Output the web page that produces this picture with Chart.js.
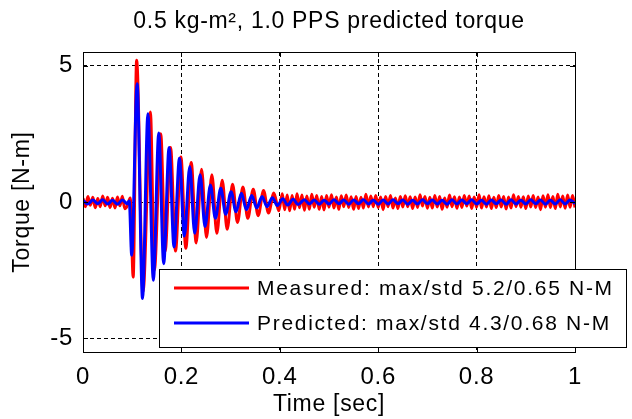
<!DOCTYPE html>
<html>
<head>
<meta charset="utf-8">
<script src="https://cdn.jsdelivr.net/npm/chart.js@4.4.1/dist/chart.umd.min.js"></script>
<style>
  body { margin: 0; background: #fff; }
  #wrap { width: 632px; height: 419px; }
</style>
</head>
<body>
<div id="wrap"><canvas id="chart" width="632" height="419"></canvas></div>
<script>
// tick positions and labels
const xTickValues = [0, 0.2, 0.4, 0.6, 0.8, 1];
const xTickLabels = ["0", "0.2", "0.4", "0.6", "0.8", "1"];
const yTickValues = [-5, 0, 5];
const yTickLabels = ["-5", "0", "5"];

// measured torque [N-m] vs time [sec]
const measuredTime = [
  0, 0.005, 0.01, 0.015, 0.02, 0.025, 0.03, 0.035, 0.04, 0.045,
  0.05, 0.055, 0.06, 0.065, 0.07, 0.075, 0.08, 0.085, 0.09,
  0.096, 0.102, 0.109, 0.122, 0.137, 0.145, 0.158, 0.167, 0.178, 0.188,
  0.199, 0.209, 0.22, 0.23, 0.241, 0.251, 0.262, 0.272, 0.283, 0.293,
  0.304, 0.314, 0.325, 0.335, 0.346, 0.356, 0.367, 0.377, 0.388, 0.398,
  0.405, 0.41, 0.415, 0.42, 0.425, 0.43, 0.435, 0.44, 0.445, 0.45,
  0.455, 0.46, 0.465, 0.47, 0.475, 0.48, 0.485, 0.49, 0.495, 0.5,
  0.505, 0.51, 0.515, 0.52, 0.525, 0.53, 0.535, 0.54, 0.545, 0.55,
  0.555, 0.56, 0.565, 0.57, 0.575, 0.58, 0.585, 0.59, 0.595, 0.6,
  0.605, 0.61, 0.615, 0.62, 0.625, 0.63, 0.635, 0.64, 0.645, 0.65,
  0.655, 0.66, 0.665, 0.67, 0.675, 0.68, 0.685, 0.69, 0.695, 0.7,
  0.705, 0.71, 0.715, 0.72, 0.725, 0.73, 0.735, 0.74, 0.745, 0.75,
  0.755, 0.76, 0.765, 0.77, 0.775, 0.78, 0.785, 0.79, 0.795, 0.8,
  0.805, 0.81, 0.815, 0.82, 0.825, 0.83, 0.835, 0.84, 0.845, 0.85,
  0.855, 0.86, 0.865, 0.87, 0.875, 0.88, 0.885, 0.89, 0.895, 0.9,
  0.905, 0.91, 0.915, 0.92, 0.925, 0.93, 0.935, 0.94, 0.945, 0.95,
  0.955, 0.96, 0.965, 0.97, 0.975, 0.98, 0.985, 0.99, 0.995, 1
];
const measuredTorque = [
  0.14, -0.17, 0.2, -0.12, 0.17, -0.21, 0.13, -0.17, 0.22, -0.14,
  0.17, -0.2, 0.14, -0.22, 0.18, -0.14, 0.21, -0.25, -0.14,
  0.15, -2.75, 5.2, -3.3, 3.3, -2.5, 2.5, -1.8, 2.0, -1.8,
  1.65, -1.7, 1.45, -1.5, 1.2, -1.3, 1.0, -1.15, 0.8, -1.0,
  0.65, -0.75, 0.55, -0.6, 0.47, -0.5, 0.42, -0.4, 0.33, -0.32,
  0.3, -0.28, 0.26, -0.32, 0.24, -0.27, 0.3, -0.21, 0.26, -0.3,
  0.22, -0.27, 0.28, -0.19, 0.24, -0.27, 0.2, -0.29, 0.24, -0.19,
  0.27, -0.22, 0.18, -0.27, 0.23, -0.17, 0.26, -0.2, 0.19, -0.27,
  0.2, -0.24, 0.17, -0.22, 0.28, -0.18, 0.22, -0.17, 0.24, -0.2,
  0.18, -0.28, 0.2, -0.17, 0.24, -0.22, 0.15, -0.24, 0.2, -0.18,
  0.23, -0.17, 0.19, -0.24, 0.18, -0.2, 0.27, -0.15, 0.2, -0.23,
  0.17, -0.22, 0.24, -0.18, 0.2, -0.27, 0.15, -0.19, 0.26, -0.17,
  0.19, -0.23, 0.18, -0.2, 0.24, -0.15, 0.22, -0.24, 0.18, -0.19,
  0.27, -0.22, 0.19, -0.18, 0.23, -0.24, 0.17, -0.2, 0.24, -0.18,
  0.2, -0.26, 0.18, -0.22, 0.27, -0.17, 0.2, -0.19, 0.19, -0.24,
  0.22, -0.18, 0.24, -0.2, 0.18, -0.28, 0.23, -0.19, 0.27, -0.2,
  0.2, -0.24, 0.28, -0.18, 0.22, -0.23, 0.26, -0.19, 0.24, -0.2
];

// predicted torque [N-m] vs time [sec]
const predictedTime = [
  0, 0.01, 0.02, 0.03, 0.04, 0.05, 0.06, 0.07, 0.08, 0.09,
  0.094, 0.099, 0.11, 0.121, 0.132, 0.143, 0.154, 0.164, 0.175, 0.185,
  0.196, 0.206, 0.217, 0.227, 0.238, 0.248, 0.259, 0.269, 0.28, 0.29,
  0.301, 0.311, 0.322, 0.332, 0.343, 0.353, 0.364, 0.374, 0.385, 0.395,
  0.406, 0.416, 0.427, 0.437,
  0.45, 0.46, 0.47, 0.48, 0.49, 0.5, 0.51, 0.52, 0.53, 0.54,
  0.55, 0.56, 0.57, 0.58, 0.59, 0.6, 0.61, 0.62, 0.63, 0.64,
  0.65, 0.66, 0.67, 0.68, 0.69, 0.7, 0.71, 0.72, 0.73, 0.74,
  0.75, 0.76, 0.77, 0.78, 0.79, 0.8, 0.81, 0.82, 0.83, 0.84,
  0.85, 0.86, 0.87, 0.88, 0.89, 0.9, 0.91, 0.92, 0.93, 0.94,
  0.95, 0.96, 0.97, 0.98, 0.99, 1
];
const predictedTorque = [
  0.06, -0.07, 0.07, -0.06, 0.08, -0.07, 0.06, -0.08, 0.07, -0.06,
  0.04, -1.95, 4.34, -3.54, 3.24, -2.87, 2.53, -2.26, 2.0, -1.65,
  1.6, -1.25, 1.3, -1.15, 1.0, -0.9, 0.62, -0.6, 0.5, -0.45,
  0.38, -0.36, 0.32, -0.28, 0.24, -0.22, 0.2, -0.17, 0.16, -0.13,
  0.12, -0.11, 0.1, -0.09,
  0.08, -0.07, 0.07, -0.08, 0.06, -0.07, 0.08, -0.06, 0.07, -0.08,
  0.07, -0.06, 0.08, -0.07, 0.06, -0.08, 0.07, -0.07, 0.08, -0.06,
  0.07, -0.08, 0.06, -0.07, 0.08, -0.06, 0.07, -0.07, 0.06, -0.08,
  0.08, -0.07, 0.07, -0.06, 0.08, -0.07, 0.06, -0.08, 0.07, -0.06,
  0.07, -0.08, 0.08, -0.07, 0.06, -0.07, 0.08, -0.06, 0.07, -0.08,
  0.06, -0.07, 0.08, -0.07, 0.07, -0.06
];

const legendLabels = [
  "Measured: max/std 5.2/0.65 N-M",
  "Predicted: max/std 4.3/0.68 N-M"
];

const FONT = '"Liberation Sans", Arial, sans-serif';

function toPoints(xs, ys) {
  return xs.map((x, i) => ({ x: x, y: ys[i] }));
}

// MATLAB style box with inward ticks, plus the framed legend
const boxPlugin = {
  id: "box",
  beforeDraw(chart) {
    chart.ctx.letterSpacing = "0.7px";
  },
  afterDatasetsDraw(chart) {
    const { ctx, chartArea: a, scales } = chart;
    ctx.save();
    ctx.strokeStyle = "#000";
    ctx.lineWidth = 1;
    ctx.beginPath();
    xTickValues.forEach((v) => {
      const px = Math.round(scales.x.getPixelForValue(v)) + 0.5;
      ctx.moveTo(px, a.bottom); ctx.lineTo(px, a.bottom - 5);
      ctx.moveTo(px, a.top); ctx.lineTo(px, a.top + 5);
    });
    yTickValues.forEach((v) => {
      const py = Math.round(scales.y.getPixelForValue(v)) + 0.5;
      ctx.moveTo(a.left, py); ctx.lineTo(a.left + 5, py);
      ctx.moveTo(a.right, py); ctx.lineTo(a.right - 5, py);
    });
    ctx.stroke();
    ctx.strokeRect(Math.round(a.left) + 0.5, Math.round(a.top) + 0.5,
      Math.round(a.right - a.left), Math.round(a.bottom - a.top));
    ctx.restore();
  },
  afterDraw(chart) {
    const ctx = chart.ctx;
    const colors = chart.data.datasets.map((d) => d.borderColor);
    ctx.save();
    ctx.letterSpacing = "1.7px";
    ctx.fillStyle = "#fff";
    ctx.fillRect(159, 269, 467, 78);
    ctx.strokeStyle = "#000";
    ctx.lineWidth = 1;
    ctx.strokeRect(159.5, 269.5, 467, 78);
    ctx.font = "21px " + FONT;
    ctx.textBaseline = "middle";
    ctx.textAlign = "left";
    legendLabels.forEach((label, i) => {
      const y = 288 + i * 35;
      ctx.strokeStyle = colors[i];
      ctx.lineWidth = 3;
      ctx.beginPath();
      ctx.moveTo(174, y);
      ctx.lineTo(249, y);
      ctx.stroke();
      ctx.fillStyle = "#000";
      ctx.fillText(label, 257, y + 1);
    });
    ctx.restore();
  }
};

new Chart(document.getElementById("chart"), {
  type: "line",
  data: {
    datasets: [
      {
        label: legendLabels[0],
        data: toPoints(measuredTime, measuredTorque),
        borderColor: "#ff0000",
        borderWidth: 3,
        pointRadius: 0,
        cubicInterpolationMode: "monotone",
        order: 2
      },
      {
        label: legendLabels[1],
        data: toPoints(predictedTime, predictedTorque),
        borderColor: "#0000ff",
        borderWidth: 3,
        pointRadius: 0,
        cubicInterpolationMode: "monotone",
        order: 1
      }
    ]
  },
  options: {
    responsive: false,
    animation: false,
    devicePixelRatio: 1,
    layout: { padding: { left: 0, right: 57, top: 0, bottom: 0 } },
    plugins: {
      legend: { display: false },
      tooltip: { enabled: false }
    },
    scales: {
      x: {
        type: "linear",
        min: 0,
        max: 1,
        afterBuildTicks: (s) => { s.ticks = xTickValues.map((v) => ({ value: v })); },
        afterFit: (s) => { s.height = 67; },
        ticks: {
          color: "#000",
          padding: 11,
          maxRotation: 0,
          autoSkip: false,
          font: { family: FONT, size: 24 },
          callback: (v, i) => xTickLabels[i]
        },
        grid: { color: "#000", drawTicks: false, lineWidth: 1 },
        border: { display: false, dash: [4, 3] },
        title: {
          display: true,
          text: "Time [sec]",
          color: "#000",
          font: { family: FONT, size: 23 },
          padding: { top: 0, bottom: 1 }
        }
      },
      top: {
        type: "linear",
        position: "top",
        min: 0,
        max: 1,
        afterFit: (s) => { s.height = 52; },
        ticks: { display: false },
        grid: { display: false, drawTicks: false },
        border: { display: false },
        title: {
          display: true,
          text: "0.5 kg-m², 1.0 PPS predicted torque",
          color: "#000",
          font: { family: FONT, size: 23 },
          padding: { top: 8, bottom: 0 }
        }
      },
      y: {
        type: "linear",
        min: -5.5,
        max: 5.5,
        afterBuildTicks: (s) => { s.ticks = yTickValues.map((v) => ({ value: v })); },
        afterFit: (s) => { s.width = 83; },
        ticks: {
          color: "#000",
          padding: 10,
          font: { family: FONT, size: 24 },
          callback: (v, i) => yTickLabels[i]
        },
        grid: { color: "#000", drawTicks: false, lineWidth: 1 },
        border: { display: false, dash: [4, 3] },
        title: {
          display: true,
          text: "Torque [N-m]",
          color: "#000",
          font: { family: FONT, size: 23 },
          padding: { top: 9, bottom: 0 }
        }
      }
    }
  },
  plugins: [boxPlugin]
});
</script>
</body>
</html>
